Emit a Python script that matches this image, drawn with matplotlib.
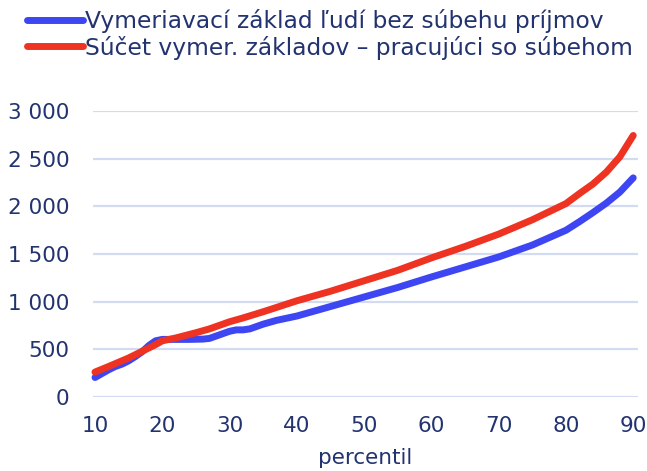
import matplotlib
matplotlib.use("Agg")
import matplotlib.pyplot as plt

# ── Data ─────────────────────────────────────────────────────────────────────
pct_blue = [10, 11, 12, 13, 14, 15, 16, 17, 18, 19, 20, 22, 24, 26, 27, 28, 29,
            30, 31, 32, 33, 34, 35, 36, 37, 38, 39, 40, 42, 45, 47, 50, 55, 60,
            65, 70, 75, 80, 82, 84, 86, 88, 90]
blue = [205, 245, 285, 320, 345, 380, 425, 475, 540, 590, 605, 605, 605, 608,
        615, 640, 665, 690, 705, 705, 715, 740, 765, 785, 805, 820, 835, 850,
        890, 950, 990, 1050, 1150, 1260, 1365, 1470, 1595, 1750, 1840, 1935,
        2035, 2150, 2300]

pct_red = [10, 12, 15, 17, 19, 20, 22, 25, 27, 30, 32, 35, 40, 45, 50, 55, 60,
           65, 70, 75, 80, 82, 84, 86, 88, 90]
red = [262, 320, 410, 480, 550, 590, 620, 675, 715, 790, 830, 895, 1010, 1110,
       1220, 1330, 1460, 1580, 1710, 1860, 2030, 2135, 2235, 2360, 2520, 2745]

labels = ["Vymeriavací základ ľudí bez súbehu príjmov",
          "Súčet vymer. základov – pracujúci so súbehom"]

NAVY = "#22336f"
BLUE = "#3d46f2"
RED = "#ee3322"
GRID = "#d3dbf3"

plt.rcParams["font.family"] = ["DejaVu Sans"]

fig = plt.figure(figsize=(6.47, 4.71), dpi=100)
ax = fig.add_axes([0.1437, 0.157, 0.8423, 0.607])

l1, = ax.plot(pct_blue, blue, color=BLUE, lw=5, solid_capstyle="round",
              solid_joinstyle="round", zorder=3, clip_on=False)
l2, = ax.plot(pct_red, red, color=RED, lw=5, solid_capstyle="round",
              solid_joinstyle="round", zorder=4, clip_on=False)

ax.set_xlim(9.7, 90.7)
ax.set_ylim(0, 3000)
ax.set_xticks(range(10, 91, 10))
ax.set_yticks(range(0, 3001, 500))
ax.yaxis.set_major_formatter(plt.FuncFormatter(lambda v, _: f"{v:,.0f}".replace(",", " ")))
ax.grid(axis="y", color=GRID, linewidth=1.6)
ax.set_axisbelow(True)
for s in ax.spines.values():
    s.set_visible(False)
ax.tick_params(length=0, labelsize=15.5, colors=NAVY)
ax.tick_params(axis="y", pad=17)
ax.tick_params(axis="x", pad=14)
ax.set_xlabel("percentil", fontsize=15.5, color=NAVY, labelpad=8)

fig.legend([l1, l2], labels, loc="upper left", bbox_to_anchor=(0.016, 1.015),
           frameon=False, fontsize=16.8, labelcolor=NAVY, handlelength=2.4,
           handletextpad=0.1, labelspacing=0.1, borderaxespad=0.3)

plt.savefig("out.png", dpi=100)
